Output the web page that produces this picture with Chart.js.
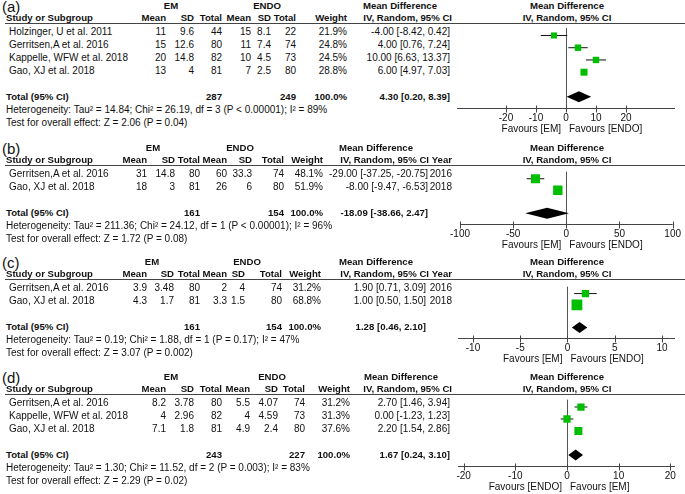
<!DOCTYPE html>
<html><head><meta charset="utf-8">
<script src="https://cdn.jsdelivr.net/npm/chart.js@4.4.1/dist/chart.umd.min.js"></script>
<style>
html,body{margin:0;padding:0;background:#fff;}
#root{position:relative;width:685px;height:494px;overflow:hidden;font-family:"Liberation Sans",Arial,Helvetica,sans-serif;color:#111;}
.t{position:absolute;white-space:nowrap;}
.b{font-weight:bold;}
canvas{position:absolute;left:0;}
.hl{position:absolute;height:1px;background:#444;}
</style></head><body><div id="root"></div>
<script>
// ---------- (a) ----------
const studiesA = ["Holzinger, U et al. 2011","Gerritsen,A et al. 2016","Kappelle, WFW et al. 2018","Gao, XJ et al. 2018"];
const emMeanA = [11,15,20,13];
const emSdA = [9.6,12.6,14.8,4];
const emNA = [44,80,82,81];
const endoMeanA = [15,11,10,7];
const endoSdA = [8.1,7.4,4.5,2.5];
const endoNA = [22,74,73,80];
const weightA = [21.9,24.8,24.5,28.8];
const mdA = [-4.00,4.00,10.00,6.00];
const loA = [-8.42,0.76,6.63,4.97];
const hiA = [0.42,7.24,13.37,7.03];
const totalA = [4.30,0.20,8.39];
const totalNA = [287,249];
const hetA = "Heterogeneity: Tau\u00B2 = 14.84; Chi\u00B2 = 26.19, df = 3 (P < 0.00001); I\u00B2 = 89%";
const testA = "Test for overall effect: Z = 2.06 (P = 0.04)";
const ticksA = [-20,-10,0,10,20];
const favoursA = ["Favours [EM]","Favours [ENDO]"];

// ---------- (b) ----------
const studiesB = ["Gerritsen,A et al. 2016","Gao, XJ et al. 2018"];
const emMeanB = [31,18];
const emSdB = [14.8,3];
const emNB = [80,81];
const endoMeanB = [60,26];
const endoSdB = [33.3,6];
const endoNB = [74,80];
const weightB = [48.1,51.9];
const mdB = [-29.00,-8.00];
const loB = [-37.25,-9.47];
const hiB = [-20.75,-6.53];
const yearB = [2016,2018];
const totalB = [-18.09,-38.66,2.47];
const totalNB = [161,154];
const hetB = "Heterogeneity: Tau\u00B2 = 211.36; Chi\u00B2 = 24.12, df = 1 (P < 0.00001); I\u00B2 = 96%";
const testB = "Test for overall effect: Z = 1.72 (P = 0.08)";
const ticksB = [-100,-50,0,50,100];
const favoursB = ["Favours [EM]","Favours [ENDO]"];

// ---------- (c) ----------
const studiesC = ["Gerritsen,A et al. 2016","Gao, XJ et al. 2018"];
const emMeanC = [3.9,4.3];
const emSdC = [3.48,1.7];
const emNC = [80,81];
const endoMeanC = [2,3.3];
const endoSdC = [4,1.5];
const endoNC = [74,80];
const weightC = [31.2,68.8];
const mdC = [1.90,1.00];
const loC = [0.71,0.50];
const hiC = [3.09,1.50];
const yearC = [2016,2018];
const totalC = [1.28,0.46,2.10];
const totalNC = [161,154];
const hetC = "Heterogeneity: Tau\u00B2 = 0.19; Chi\u00B2 = 1.88, df = 1 (P = 0.17); I\u00B2 = 47%";
const testC = "Test for overall effect: Z = 3.07 (P = 0.002)";
const ticksC = [-10,-5,0,5,10];
const favoursC = ["Favours [EM]","Favours [ENDO]"];

// ---------- (d) ----------
const studiesD = ["Gerritsen,A et al. 2016","Kappelle, WFW et al. 2018","Gao, XJ et al. 2018"];
const emMeanD = [8.2,4,7.1];
const emSdD = [3.78,2.96,1.8];
const emND = [80,82,81];
const endoMeanD = [5.5,4,4.9];
const endoSdD = [4.07,4.59,2.4];
const endoND = [74,73,80];
const weightD = [31.2,31.3,37.6];
const mdD = [2.70,0.00,2.20];
const loD = [1.46,-1.23,1.54];
const hiD = [3.94,1.23,2.86];
const totalD = [1.67,0.24,3.10];
const totalND = [243,227];
const hetD = "Heterogeneity: Tau\u00B2 = 1.30; Chi\u00B2 = 11.52, df = 2 (P = 0.003); I\u00B2 = 83%";
const testD = "Test for overall effect: Z = 2.29 (P = 0.02)";
const ticksD = [-20,-10,0,10,20];
const favoursD = ["Favours [ENDO]","Favours [EM]"];

// ---------- layout (positions only) ----------
const FONT = '"Liberation Sans", Arial, Helvetica, sans-serif';
const FS = 10;     // regular text
const FB = 9.6;    // bold text
const root = document.getElementById('root');

function addText(s, x, y, align, bold, size){
  const d = document.createElement('div');
  d.className = 't' + (bold ? ' b' : '');
  d.textContent = s;
  const fs = size || (bold ? FB : FS);
  const lh = 12;
  d.style.fontSize = fs + 'px';
  d.style.lineHeight = lh + 'px';
  d.style.top = (y - lh/2) + 'px';
  if (align === 'l') { d.style.left = x + 'px'; }
  else if (align === 'r') { d.style.left = (x-400)+'px'; d.style.width='400px'; d.style.textAlign='right'; }
  else { d.style.left = (x-200)+'px'; d.style.width='400px'; d.style.textAlign='center'; }
  root.appendChild(d);
}

const forestPlugin = {
  id: 'forest',
  beforeDatasetsDraw(chart, args, o){
    const ctx = chart.ctx, a = chart.chartArea, x = chart.scales.x;
    ctx.save();
    ctx.strokeStyle = '#555'; ctx.lineWidth = 1;
    const z = Math.round(x.getPixelForValue(0)) + 0.5;
    ctx.beginPath(); ctx.moveTo(z, a.top); ctx.lineTo(z, a.bottom); ctx.stroke();
    ctx.strokeStyle = '#444';
    const yb = Math.round(a.bottom) + 0.5;
    ctx.beginPath(); ctx.moveTo(a.left, yb); ctx.lineTo(a.right, yb);
    x.ticks.forEach(t => {
      const px = Math.round(x.getPixelForValue(t.value)) + 0.5;
      ctx.moveTo(px, yb-3); ctx.lineTo(px, yb+4);
    });
    ctx.stroke();
    ctx.restore();
  },
  afterDatasetsDraw(chart, args, o){
    const ctx = chart.ctx, x = chart.scales.x, y = chart.scales.y;
    const t = o.total, yy = y.getPixelForValue(o.row);
    ctx.save(); ctx.fillStyle = '#000';
    ctx.beginPath();
    ctx.moveTo(x.getPixelForValue(t[1]), yy);
    ctx.lineTo(x.getPixelForValue(t[0]), yy - 5.5);
    ctx.lineTo(x.getPixelForValue(t[2]), yy);
    ctx.lineTo(x.getPixelForValue(t[0]), yy + 5.5);
    ctx.closePath(); ctx.fill();
    ctx.restore();
  }
};

function fmtCI(m, l, h){ return m.toFixed(2) + ' [' + l.toFixed(2) + ', ' + h.toFixed(2) + ']'; }

function panel(p, lay){
  const n = p.studies.length;
  const L = lay.L;
  const rowY = i => L + 8 + 13*i;
  const tY = i => rowY(i) + 1;
  const totY = rowY(n+1);
  const A = totY + 12;
  const c = lay.cols;
  const ivRight = lay.ci + lay.ivOff;
  const mdCenter = lay.mdC;

  const hl = document.createElement('div');
  hl.className = 'hl'; hl.style.left = '5px'; hl.style.width = '680px'; hl.style.top = L + 'px';
  root.appendChild(hl);

  addText(p.label, 2, L-16, 'l', false, 15);
  addText('EM', lay.emX, L-17, 'c', true);
  addText('ENDO', lay.endoX, L-17, 'c', true);
  addText('Mean Difference', mdCenter, L-17, 'c', true);
  addText('Mean Difference', 567, L-17, 'c', true);

  const hy = L-5;
  addText('Study or Subgroup', 6, hy, 'l', true);
  ['Mean','SD','Total','Mean','SD','Total','Weight'].forEach((h,k)=>addText(h, c[k], hy, 'r', true));
  addText('IV, Random, 95% CI', ivRight, hy, 'r', true);
  if (lay.year) addText('Year', lay.year, hy, 'r', true);
  addText('IV, Random, 95% CI', 567, hy, 'c', true);

  for (let i=0;i<n;i++){
    const y = tY(i);
    addText(p.studies[i], 9, y, 'l');
    const vals = [p.emMean[i], p.emSd[i], p.emN[i], p.endoMean[i], p.endoSd[i], p.endoN[i]];
    vals.forEach((v,k)=>addText(String(v), c[k], y, 'r'));
    addText(p.weight[i].toFixed(1)+'%', c[6], y, 'r');
    addText(fmtCI(p.md[i], p.lo[i], p.hi[i]), lay.ci, y, 'r');
    if (lay.year) addText(String(p.year[i]), lay.year, y, 'r');
  }
  const ty = totY + 1;
  addText('Total (95% CI)', 6, ty, 'l', true);
  addText(String(p.totalN[0]), c[2], ty, 'r', true);
  addText(String(p.totalN[1]), c[5], ty, 'r', true);
  addText('100.0%', c[6], ty, 'r', true);
  addText(fmtCI(p.total[0], p.total[1], p.total[2]), lay.ci, ty, 'r', true);
  addText(p.het, 6, ty+13, 'l');
  addText(p.test, 6, ty+26, 'l');

  const scaleH = 30;
  const cv = document.createElement('canvas');
  const H = (A - L) + scaleH;
  cv.width = 685; cv.height = H;
  cv.style.width = '685px'; cv.style.height = H + 'px';
  cv.style.top = L + 'px';
  root.appendChild(cv);

  const sq = p.weight.map(w => 1.3*Math.sqrt(w)/Math.SQRT2);
  const datasets = [];
  datasets.push({
    type: 'scatter',
    data: p.md.map((v,i)=>({x:v, y:i})),
    pointStyle: 'rect',
    pointRadius: sq, pointHoverRadius: sq,
    backgroundColor: '#00bf00',
    borderWidth: 0,
    order: 0
  });
  for (let i=0;i<n;i++){
    datasets.push({
      type: 'line',
      data: [{x:p.lo[i], y:i},{x:p.hi[i], y:i}],
      borderColor: '#111', borderWidth: 1,
      pointRadius: 0, pointHoverRadius: 0, showLine: true, fill: false,
      order: 1
    });
  }

  const chart = new Chart(cv, {
    type: 'scatter',
    data: { datasets },
    plugins: [forestPlugin],
    options: {
      responsive: false, animation: false, devicePixelRatio: 1,
      layout: { padding: { left: lay.padL, right: lay.padR, top: 0, bottom: 0 } },
      plugins: {
        legend: { display: false }, tooltip: { enabled: false },
        forest: { total: p.total, row: n+1 }
      },
      elements: { line: { tension: 0 } },
      scales: {
        x: {
          type: 'linear', min: lay.xmin, max: lay.xmax,
          grid: { display: false, drawTicks: false }, border: { display: false },
          afterBuildTicks: s => { s.ticks = p.ticks.map(v => ({value: v})); },
          afterFit: s => { s.height = scaleH; },
          ticks: { padding: 4, autoSkip: false, maxRotation: 0, color: '#111',
                   font: { family: FONT, size: FS }, callback: v => String(v) }
        },
        y: { type: 'linear', display: false, reverse: true, min: -8/13, max: n + 1 + 12/13 }
      }
    }
  });

  const z = chart.scales.x.getPixelForValue(0);
  addText(p.favours[0], z - 5, A + 21, 'r');
  addText(p.favours[1], z + 3, A + 21, 'l');
}

panel({label:'(a)', studies:studiesA, emMean:emMeanA, emSd:emSdA, emN:emNA, endoMean:endoMeanA, endoSd:endoSdA, endoN:endoNA,
       weight:weightA, md:mdA, lo:loA, hi:hiA, total:totalA, totalN:totalNA, het:hetA, test:testA, ticks:ticksA, favours:favoursA},
      {L:23, cols:[166,194,222,251,271,296,347], ci:450, ivOff:2, mdC:400, year:null, emX:171, endoX:267, xmin:-36.33, xmax:36.33, padL:457, padR:10});
panel({label:'(b)', studies:studiesB, emMean:emMeanB, emSd:emSdB, emN:emNB, endoMean:endoMeanB, endoSd:endoSdB, endoN:endoNB,
       weight:weightB, md:mdB, lo:loB, hi:hiB, year:yearB, total:totalB, totalN:totalNB, het:hetB, test:testB, ticks:ticksB, favours:favoursB},
      {L:165, cols:[147,175,200,227,252,284,323], ci:428, ivOff:1, mdC:376, year:452, emX:153, endoX:240, xmin:-100, xmax:100, padL:460, padR:9});
panel({label:'(c)', studies:studiesC, emMean:emMeanC, emSd:emSdC, emN:emNC, endoMean:endoMeanC, endoSd:endoSdC, endoN:endoNC,
       weight:weightC, md:mdC, lo:loC, hi:hiC, year:yearC, total:totalC, totalN:totalNC, het:hetC, test:testC, ticks:ticksC, favours:favoursC},
      {L:279, cols:[147,174,200,227,245,282,321], ci:426, ivOff:3, mdC:376, year:452, emX:152, endoX:247, xmin:-11.59, xmax:11.38, padL:458, padR:10});
panel({label:'(d)', studies:studiesD, emMean:emMeanD, emSd:emSdD, emN:emND, endoMean:endoMeanD, endoSd:endoSdD, endoN:endoND,
       weight:weightD, md:mdD, lo:loD, hi:hiD, total:totalD, totalN:totalND, het:hetD, test:testD, ticks:ticksD, favours:favoursD},
      {L:394, cols:[166,194,222,250,278,305,350], ci:450, ivOff:2, mdC:401, year:null, emX:171, endoX:272, xmin:-21.1, xmax:20.9, padL:458, padR:10});
</script>
</body></html>
